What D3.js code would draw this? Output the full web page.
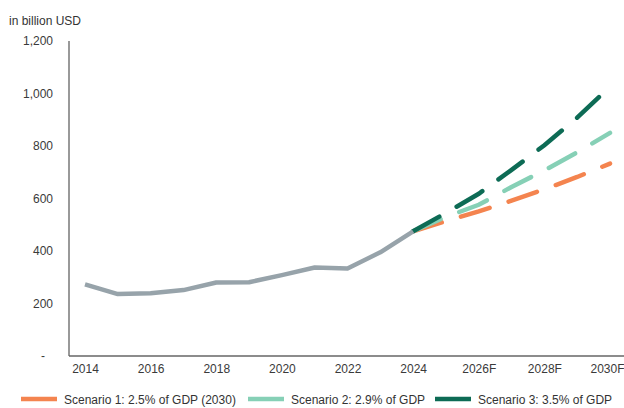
<!DOCTYPE html>
<html>
<head>
<meta charset="utf-8">
<script src="https://cdn.jsdelivr.net/npm/d3@7/dist/d3.min.js"></script>
<style>
  html, body { margin: 0; padding: 0; background: #fff; }
  svg { display: block; font-family: "Liberation Sans", Arial, sans-serif; }
</style>
</head>
<body>
<svg id="chart" width="624" height="408"></svg>
<script>
// Historical spending, 2014-2024 (billion USD)
const histYears = [2014, 2015, 2016, 2017, 2018, 2019, 2020, 2021, 2022, 2023, 2024];
const histValues = [273, 236, 239, 251, 280, 281, 308, 337, 333, 395, 475];

// Forecast scenarios, 2024-2030
const fcYears = [2024, 2025, 2026, 2027, 2028, 2029, 2030];
const scenario1 = [475, 514, 551, 592, 635, 682, 733];
const scenario2 = [475, 530, 576, 644, 707, 776, 850];
const scenario3 = [475, 545, 618, 709, 803, 908, 1026];

const scenarioNames = ["Scenario 1: 2.5% of GDP (2030)", "Scenario 2: 2.9% of GDP", "Scenario 3: 3.5% of GDP"];
const scenarioColors = ["#F4844F", "#86D0B6", "#0D6B55"];

const xTickYears = [2014, 2016, 2018, 2020, 2022, 2024, 2026, 2028, 2030];
const yTicks = [0, 200, 400, 600, 800, 1000, 1200];

const svg = d3.select("#chart");
const axisX0 = 69, axisY0 = 356, plotTop = 41;

const x = d3.scaleLinear().domain([2014, 2030]).range([85, 610]);
const y = d3.scaleLinear().domain([0, 1200]).range([axisY0, plotTop]);

// Unit label
svg.append("text")
  .attr("x", 9).attr("y", 25)
  .attr("font-size", 12).attr("fill", "#333")
  .text("in billion USD");

// Y axis labels (accounting-style: zero shown as a dash)
const yAxis = d3.axisLeft(y).tickValues(yTicks).tickSize(0).tickPadding(0)
  .tickFormat(d => d === 0 ? "-" : d3.format(",")(d));
const gy = svg.append("g").attr("transform", `translate(53,0)`).call(yAxis);
gy.select(".domain").remove();
gy.selectAll("text")
  .attr("font-size", 12).attr("fill", "#3a3a3a")
  .attr("font-family", "Liberation Sans, Arial, sans-serif")
  .attr("dx", d => d === 0 ? -8 : 0);

// X axis labels
const xAxis = d3.axisBottom(x).tickValues(xTickYears).tickSize(0).tickPadding(0)
  .tickFormat(d => d > 2024 ? d + "F" : String(d));
const gx = svg.append("g").attr("transform", `translate(0,${axisY0 + 8})`).call(xAxis);
gx.select(".domain").remove();
gx.selectAll("text")
  .attr("font-size", 12).attr("fill", "#3a3a3a")
  .attr("font-family", "Liberation Sans, Arial, sans-serif")
  .attr("dx", d => d === 2030 ? -3 : 0);

// Axis lines
svg.append("line")
  .attr("x1", axisX0).attr("x2", axisX0)
  .attr("y1", plotTop).attr("y2", axisY0)
  .attr("stroke", "#555").attr("stroke-width", 1.2);
svg.append("line")
  .attr("x1", axisX0).attr("x2", 624)
  .attr("y1", axisY0).attr("y2", axisY0)
  .attr("stroke", "#666").attr("stroke-width", 1.5);

const line = d3.line().x(d => x(d[0])).y(d => y(d[1]));

// Scenario forecasts (dashed)
const scenarios = [scenario1, scenario2, scenario3];
scenarios.forEach((vals, i) => {
  svg.append("path")
    .datum(fcYears.map((yr, j) => [yr, vals[j]]))
    .attr("d", line)
    .attr("fill", "none")
    .attr("stroke", scenarioColors[i])
    .attr("stroke-width", 4.5)
    .attr("stroke-linecap", "round")
    .attr("stroke-dasharray", "30,20");
});

// Historical line
svg.append("path")
  .datum(histYears.map((yr, j) => [yr, histValues[j]]))
  .attr("d", line)
  .attr("fill", "none")
  .attr("stroke", "#97A3AA")
  .attr("stroke-width", 4.5)
  .attr("stroke-linejoin", "round");

// Legend
const legendX = [21, 248, 435];
scenarioNames.forEach((name, i) => {
  const g = svg.append("g").attr("transform", `translate(${legendX[i]},399)`);
  g.append("line").attr("x1", 0).attr("x2", 36).attr("y1", 0).attr("y2", 0)
    .attr("stroke", scenarioColors[i]).attr("stroke-width", 4.5);
  g.append("text").attr("x", 43).attr("y", 4.5)
    .attr("font-size", 12).attr("fill", "#333")
    .text(name);
});
</script>
</body>
</html>
